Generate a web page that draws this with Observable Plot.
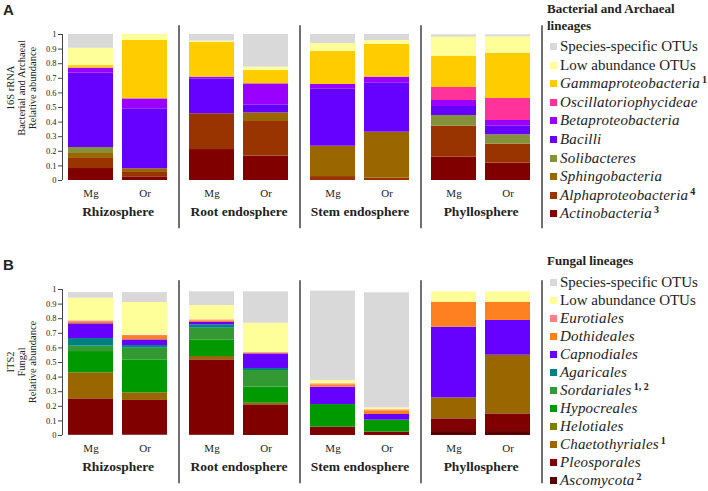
<!DOCTYPE html>
<html>
<head>
<meta charset="utf-8">
<script src="https://cdn.jsdelivr.net/npm/d3@7"></script>
<script src="https://cdn.jsdelivr.net/npm/@observablehq/plot@0.6"></script>
<style>
  html, body { margin: 0; padding: 0; background: #fff; }
  #page { position: relative; width: 708px; height: 491px; overflow: hidden; background: #fff;
          font-family: "Liberation Serif", "Times New Roman", Times, "DejaVu Serif", serif; color: #222; }
  .panel { position: absolute; left: 0; }
  .tag { position: absolute; font-family: "Liberation Sans", Arial, sans-serif; font-weight: bold; font-size: 15px; }
  .ytitle { position: absolute; width: 140px; height: 36px; text-align: center; line-height: 11px;
            font-size: 10.5px; transform: rotate(-90deg); white-space: nowrap; }
  .legtitle { position: absolute; left: 547px; font-weight: bold; font-size: 13px; line-height: 17px; white-space: nowrap; }
  .item { position: absolute; left: 550px; height: 18px; line-height: 18px; font-size: 15px; white-space: nowrap; }
  .sw { display: inline-block; width: 7px; height: 7px; margin-right: 3px; vertical-align: 1px; }
  .item i { letter-spacing: 0.2px; }
  .item sup { font-weight: bold; font-size: 10px; vertical-align: 5px; line-height: 0; margin-left: 2px; }
</style>
</head>
<body>
<div id="page"></div>
<script>
// ---------- shared categories ----------
const compartments = ["Rhizosphere", "Root endosphere", "Stem endosphere", "Phyllosphere"];
const samples = ["Mg", "Or"];
const yTicks = [0, 0.1, 0.2, 0.3, 0.4, 0.5, 0.6, 0.7, 0.8, 0.9, 1];
// bar order for every series: Rhizo Mg, Rhizo Or, Root Mg, Root Or, Stem Mg, Stem Or, Phyllo Mg, Phyllo Or

// ---------- Panel A: bacterial and archaeal lineages (stack order, bottom to top) ----------
const bacLineages = ["Actinobacteria", "Alphaproteobacteria", "Sphingobacteria", "Solibacteres", "Bacilli",
  "Betaproteobacteria", "Oscillatoriophycideae", "Gammaproteobacteria", "Low abundance OTUs", "Species-specific OTUs"];
const bacColors = ["#800000", "#993300", "#996600", "#86923a", "#6600ff",
  "#9900ff", "#ff3399", "#ffcc00", "#ffff99", "#d9d9d9"];
const bacNotes = ["3", "4", "", "", "", "", "", "1", "", ""];
const bacActinobacteria        = [0.082, 0.025, 0.212, 0.167, 0.000, 0.000, 0.160, 0.119];
const bacAlphaproteobacteria   = [0.069, 0.030, 0.245, 0.237, 0.027, 0.016, 0.212, 0.130];
const bacSphingobacteria       = [0.034, 0.025, 0.000, 0.059, 0.208, 0.315, 0.000, 0.000];
const bacSolibacteres          = [0.041, 0.000, 0.000, 0.000, 0.000, 0.000, 0.073, 0.064];
const bacBacilli               = [0.509, 0.411, 0.239, 0.055, 0.393, 0.338, 0.062, 0.059];
const bacBetaproteobacteria    = [0.035, 0.068, 0.012, 0.144, 0.030, 0.039, 0.041, 0.039];
const bacOscillatoriophycideae = [0.000, 0.000, 0.000, 0.000, 0.000, 0.000, 0.089, 0.151];
const bacGammaproteobacteria   = [0.017, 0.400, 0.239, 0.091, 0.226, 0.224, 0.215, 0.310];
const bacLowAbundance          = [0.119, 0.041, 0.008, 0.023, 0.054, 0.027, 0.130, 0.112];
const bacSpeciesSpecific       = [0.094, 0.000, 0.045, 0.224, 0.062, 0.041, 0.016, 0.014];

// ---------- Panel B: fungal lineages (stack order, bottom to top) ----------
const funLineages = ["Ascomycota", "Pleosporales", "Chaetothyriales", "Helotiales", "Hypocreales", "Sordariales",
  "Agaricales", "Capnodiales", "Dothideales", "Eurotiales", "Low abundance OTUs", "Species-specific OTUs"];
const funColors = ["#5a0000", "#800000", "#996600", "#808000", "#009900", "#339933",
  "#008080", "#6600ff", "#ff8020", "#ff8080", "#ffff99", "#d9d9d9"];
const funNotes = ["2", "", "1", "", "", "1, 2", "", "", "", "", "", ""];
const funAscomycota      = [0.005, 0.003, 0.005, 0.000, 0.000, 0.000, 0.027, 0.027];
const funPleosporales    = [0.246, 0.237, 0.513, 0.210, 0.057, 0.023, 0.087, 0.121];
const funChaetothyriales = [0.178, 0.052, 0.023, 0.011, 0.000, 0.000, 0.144, 0.402];
const funHelotiales      = [0.000, 0.000, 0.000, 0.000, 0.000, 0.000, 0.000, 0.000];
const funHypocreales     = [0.146, 0.226, 0.114, 0.110, 0.155, 0.082, 0.000, 0.000];
const funSordariales     = [0.037, 0.080, 0.080, 0.114, 0.000, 0.000, 0.000, 0.000];
const funAgaricales      = [0.052, 0.018, 0.023, 0.014, 0.000, 0.000, 0.000, 0.000];
const funCapnodiales     = [0.101, 0.039, 0.016, 0.100, 0.119, 0.039, 0.484, 0.238];
const funDothideales     = [0.014, 0.023, 0.009, 0.005, 0.016, 0.025, 0.171, 0.125];
const funEurotiales      = [0.006, 0.007, 0.009, 0.004, 0.007, 0.007, 0.000, 0.000];
const funLowAbundance    = [0.156, 0.226, 0.098, 0.201, 0.023, 0.013, 0.071, 0.071];
const funSpeciesSpecific = [0.038, 0.068, 0.094, 0.215, 0.612, 0.788, 0.000, 0.000];

const bacSeries = [bacActinobacteria, bacAlphaproteobacteria, bacSphingobacteria, bacSolibacteres, bacBacilli,
  bacBetaproteobacteria, bacOscillatoriophycideae, bacGammaproteobacteria, bacLowAbundance, bacSpeciesSpecific];
const funSeries = [funAscomycota, funPleosporales, funChaetothyriales, funHelotiales, funHypocreales, funSordariales,
  funAgaricales, funCapnodiales, funDothideales, funEurotiales, funLowAbundance, funSpeciesSpecific];

function buildRows(lineages, series) {
  const rows = [];
  lineages.forEach((lin, i) => series[i].forEach((v, j) => rows.push({
    compartment: compartments[Math.floor(j / 2)], sample: samples[j % 2], lineage: lin, value: v
  })));
  return rows;
}

const SERIF = "'Liberation Serif', 'Times New Roman', Times, 'DejaVu Serif', serif";

function chart(rows, lineages, colors) {
  return Plot.plot({
    width: 545, height: 230,
    marginLeft: 62, marginRight: 9, marginTop: 34, marginBottom: 50,
    style: {fontFamily: SERIF, color: "#222", background: "transparent", overflow: "visible"},
    fx: {domain: compartments, paddingInner: 0.083, paddingOuter: 0, label: null},
    x: {domain: samples, paddingInner: 0.167, paddingOuter: 0.11, label: null},
    y: {domain: [0, 1], label: null},
    color: {domain: lineages, range: colors},
    marks: [
      Plot.barY(rows, {fx: "compartment", x: "sample", y: "value", fill: "lineage"}),
      Plot.axisY({ticks: yTicks, tickFormat: d => String(+d.toFixed(1)), tickSize: 4, tickPadding: 2,
                  fontSize: 8.5, label: null, stroke: "#444", fontFamily: SERIF}),
      Plot.ruleX([compartments[0]], {fx: d => d, x: () => samples[0], dx: -28.5, y1: 0, y2: 1, stroke: "#444"}),
      Plot.axisX({tickSize: 0, tickPadding: 9, fontSize: 11, label: null, fontFamily: SERIF}),
      Plot.axisFx({anchor: "bottom", tickSize: 0, tickPadding: 26, fontSize: 13.5, fontWeight: "bold",
                   label: null, fontFamily: SERIF}),
      Plot.ruleX(compartments, {fx: d => d, x: () => samples[1], dx: 34, y1: -0.33, y2: 1.06,
                                stroke: "#222", strokeWidth: 1.3})
    ]
  });
}

const page = document.getElementById("page");

function addPanel(top, tag, tagTop, titleLines, titleCY, legendTitle, legendTitleTop, itemTop0, itemStep,
                  lineages, colors, notes, series) {
  const holder = document.createElement("div");
  holder.className = "panel";
  holder.style.top = top + "px";
  holder.appendChild(chart(buildRows(lineages, series), lineages, colors));
  page.appendChild(holder);

  const t = document.createElement("div");
  t.className = "tag"; t.textContent = tag;
  t.style.left = "3px"; t.style.top = tagTop + "px";
  page.appendChild(t);

  const yt = document.createElement("div");
  yt.className = "ytitle";
  yt.innerHTML = titleLines.join("<br>");
  yt.style.left = (23 - 70) + "px";
  yt.style.top = (titleCY - 18) + "px";
  page.appendChild(yt);

  const lt = document.createElement("div");
  lt.className = "legtitle";
  lt.innerHTML = legendTitle;
  lt.style.top = legendTitleTop + "px";
  page.appendChild(lt);

  const order = lineages.map((d, i) => i).reverse();
  order.forEach((i, k) => {
    const it = document.createElement("div");
    it.className = "item";
    it.style.top = (itemTop0 + k * itemStep - 9) + "px";
    const plain = lineages[i].endsWith("OTUs");
    it.innerHTML = `<span class="sw" style="background:${colors[i]}"></span>` +
      (plain ? lineages[i] : `<i>${lineages[i]}</i>`) +
      (notes[i] ? `<sup>${notes[i]}</sup>` : "");
    page.appendChild(it);
  });
}

addPanel(0, "A", 1, ["16S rRNA", "Bacterial and Archaeal", "Relative abundance"], 88,
  "Bacterial and Archaeal<br>lineages", 0, 46, 18.6, bacLineages, bacColors, bacNotes, bacSeries);
addPanel(255, "B", 256, ["ITS2", "Fungal", "Relative abundance"], 362,
  "Fungal lineages", 252, 282, 18.0, funLineages, funColors, funNotes, funSeries);
</script>
</body>
</html>
